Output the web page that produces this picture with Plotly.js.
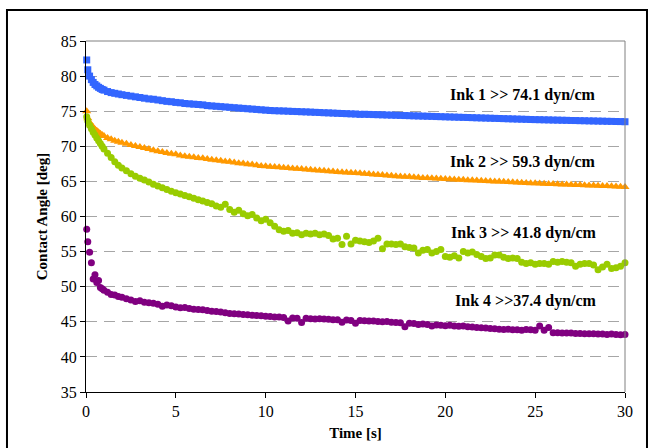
<!DOCTYPE html>
<html>
<head>
<meta charset="utf-8">
<script src="https://cdn.plot.ly/plotly-3.0.1.min.js"></script>
<style>html,body{margin:0;padding:0;background:#fff;}#chart{width:654px;height:448px;}</style>
</head>
<body>
<div id="chart"></div>
<script>
// Time samples [s]
var time = [0.04,0.1,0.2,0.3,0.4,0.5,0.6,0.7,0.8,0.9,1.0,1.2,1.4,1.6,1.8,
2.0,2.25,2.5,2.75, 3.0,3.25,3.5,3.75, 4.0,4.25,4.5,4.75, 5.0,5.25,5.5,5.75,
6.0,6.25,6.5,6.75, 7.0,7.25,7.5,7.75, 8.0,8.25,8.5,8.75, 9.0,9.25,9.5,9.75,
10.0,10.25,10.5,10.75, 11.0,11.25,11.5,11.75, 12.0,12.25,12.5,12.75, 13.0,13.25,13.5,13.75,
14.0,14.25,14.5,14.75, 15.0,15.25,15.5,15.75, 16.0,16.25,16.5,16.75, 17.0,17.25,17.5,17.75,
18.0,18.25,18.5,18.75, 19.0,19.25,19.5,19.75, 20.0,20.25,20.5,20.75, 21.0,21.25,21.5,21.75,
22.0,22.25,22.5,22.75, 23.0,23.25,23.5,23.75, 24.0,24.25,24.5,24.75, 25.0,25.25,25.5,25.75,
26.0,26.25,26.5,26.75, 27.0,27.25,27.5,27.75, 28.0,28.25,28.5,28.75, 29.0,29.25,29.5,29.75, 30.0];

// Contact angle [deg]
var ink1 = [82.3,80.9,80.0,79.5,79.1,78.8,78.6,78.4,78.25,78.1,78.0,77.8,77.65,77.55,77.45,
77.35,77.25,77.15,77.05, 76.95,76.85,76.75,76.7, 76.6,76.5,76.4,76.35, 76.25,76.2,76.1,76.05,
76.0,75.95,75.9,75.8, 75.75,75.7,75.65,75.6, 75.55,75.5,75.45,75.4, 75.35,75.3,75.25,75.2,
75.15,75.1,75.07,75.05, 75.03,75.0,74.97,74.95, 74.92,74.9,74.87,74.84, 74.81,74.78,74.76,74.73,
74.7,74.67,74.65,74.62, 74.6,74.55,74.56,74.54, 74.52,74.5,74.48,74.46, 74.44,74.42,74.4,74.38,
74.36,74.34,74.32,74.3, 74.28,74.26,74.24,74.22, 74.2,74.18,74.16,74.14, 74.12,74.1,74.08,74.06,
74.04,74.02,74.0,73.98, 73.96,73.94,73.92,73.9, 73.88,73.86,73.84,73.82, 73.8,73.79,73.77,73.76,
73.74,73.73,73.71,73.7, 73.68,73.67,73.65,73.64, 73.62,73.61,73.59,73.58, 73.56,73.55,73.53,73.52, 73.5];

var ink2 = [75.0,74.0,73.4,73.0,72.7,72.4,72.2,72.0,71.8,71.6,71.45,71.2,71.0,70.8,70.65,
70.5,70.35,70.2,70.05, 69.9,69.75,69.6,69.45, 69.3,69.2,69.05,68.95, 68.85,68.7,68.6,68.5,
68.45,68.35,68.3,68.2, 68.1,68.0,67.95,67.85, 67.8,67.7,67.6,67.55, 67.45,67.4,67.3,67.2,
67.15,67.1,67.05,67.0, 66.95,66.9,66.85,66.8, 66.75,66.7,66.65,66.6, 66.55,66.5,66.45,66.4,
66.35,66.3,66.25,66.22, 66.2,66.15,66.1,66.05, 66.0,65.95,65.9,65.85, 65.8,65.75,65.7,65.68,
65.65,65.6,65.55,65.5, 65.47,65.44,65.4,65.37, 65.35,65.3,65.28,65.25, 65.22,65.18,65.15,65.12,
65.1,65.05,65.02,65.0, 64.97,64.94,64.9,64.88, 64.85,64.82,64.78,64.75, 64.72,64.7,64.67,64.64,
64.62,64.6,64.57,64.55, 64.52,64.5,64.47,64.45, 64.42,64.4,64.38,64.35, 64.33,64.3,64.28,64.25, 64.22];

var ink3 = [74.2,73.6,73.0,72.5,72.0,71.6,71.2,70.8,70.4,70.0,69.6,69.0,68.4,67.8,67.3,
66.9,66.5,66.1,65.75, 65.45,65.2,64.9,64.6, 64.35,64.1,63.85,63.6, 63.4,63.2,63.0,62.8,
62.6,62.4,62.2,62.0, 61.8,61.5,61.3,61.75, 61.0,60.6,60.9,60.4, 60.1,60.3,59.8,59.4,
59.6,59.1,58.6,58.1, 57.9,58.0,57.6,57.7, 57.4,57.6,57.5,57.6, 57.4,57.5,57.3,56.8,
56.9,56.0,57.2,56.1, 56.6,56.5,56.4,56.3, 56.5,56.9,55.4,56.1, 56.1,56.0,56.1,55.7,
55.6,55.5,54.8,55.2, 55.3,54.8,55.0,55.3, 54.3,54.2,54.4,54.1, 55.0,54.8,54.95,54.6,
54.3,54.0,54.1,54.5, 54.5,54.2,54.0,54.1, 54.0,53.5,53.3,53.4, 53.2,53.3,53.3,53.2,
53.6,53.5,53.6,53.5, 53.4,52.9,53.2,53.3, 53.3,53.1,52.4,52.8, 53.2,52.6,52.7,52.9, 53.4];

var ink4 = [58.2,56.4,54.9,53.4,51.1,51.7,50.6,50.9,49.9,49.7,49.5,49.2,48.9,48.8,48.6,
48.5,48.3,48.1,47.9, 48.0,47.8,47.7,47.65, 47.5,47.2,47.4,47.3, 47.1,47.0,47.05,46.9,
46.8,46.75,46.7,46.6, 46.5,46.45,46.4,46.3, 46.2,46.15,46.1,46.05, 46.0,45.95,45.9,45.85,
45.8,45.75,45.7,45.7, 45.6,45.1,45.55,45.5, 44.9,45.5,45.45,45.4, 45.45,45.4,45.35,45.3,
45.3,44.95,45.25,45.2, 44.8,45.2,45.15,45.1, 45.1,45.05,45.0,45.05, 44.95,44.9,44.85,44.3,
44.8,44.75,44.6,44.7, 44.6,44.4,44.55,44.5, 44.45,44.5,44.4,44.35, 44.4,44.3,44.25,44.2,
44.15,44.1,44.05,44.0, 43.95,43.9,43.95,43.85, 43.85,43.8,43.9,43.85, 43.8,44.4,43.8,44.2,
43.45,43.45,43.4,43.4, 43.4,43.35,43.35,43.3, 43.3,43.3,43.25,43.25, 43.2,43.25,43.2,43.15, 43.2];

var seriesNames = ["Ink 1", "Ink 2", "Ink 3", "Ink 4"];
var labels = ["Ink 1 >> 74.1 dyn/cm", "Ink 2 >> 59.3 dyn/cm", "Ink 3 >> 41.8 dyn/cm", "Ink 4 >>37.4 dyn/cm"];
var xTicks = [0, 5, 10, 15, 20, 25, 30];
var yTicks = [35, 40, 45, 50, 55, 60, 65, 70, 75, 80, 85];

var serif = "Liberation Serif";
var colors = ["#3366FF", "#FF9900", "#99CC00", "#800080"];
var symbols = ["square", "triangle-up", "circle", "circle"];
var sizes = [7, 8, 7, 7];
var ys = [ink1, ink2, ink3, ink4];

var traces = ys.map(function (y, i) {
  return {
    type: "scatter", mode: "markers", name: seriesNames[i],
    x: time, y: y, cliponaxis: false,
    marker: {symbol: symbols[i], size: sizes[i], color: colors[i], line: {width: 0}}
  };
});

var labelPos = [[24.3, 77.3], [24.3, 67.7], [24.4, 57.7], [24.5, 48.0]];
var annotations = labels.map(function (t, i) {
  return {
    xref: "x", yref: "y", x: labelPos[i][0], y: labelPos[i][1],
    text: "<b>" + t + "</b>", showarrow: false, xanchor: "center", yanchor: "middle",
    font: {family: serif, size: 16, color: "#000"}
  };
});

var layout = {
  width: 654, height: 448,
  margin: {l: 86, r: 29, t: 41, b: 56},
  paper_bgcolor: "#fff", plot_bgcolor: "#fff",
  showlegend: false,
  font: {family: serif, color: "#000"},
  xaxis: {
    range: [0, 30], tickvals: xTicks, ticktext: xTicks.map(String),
    ticks: "outside", ticklen: 5, tickcolor: "#000", tickwidth: 1,
    showline: true, linecolor: "#000", linewidth: 1,
    showgrid: false, zeroline: false,
    tickfont: {family: serif, size: 16, color: "#000"},
    title: {text: "<b>Time [s]</b>", font: {family: serif, size: 15, color: "#000"}, standoff: 8}
  },
  yaxis: {
    range: [35, 85], tickvals: yTicks, ticktext: yTicks.map(String),
    ticks: "outside", ticklen: 5, tickcolor: "#000", tickwidth: 1,
    showline: true, linecolor: "#000", linewidth: 1,
    showgrid: true, gridcolor: "#a6a6a6", gridwidth: 1, griddash: "11px,7px",
    zeroline: false,
    tickfont: {family: serif, size: 16, color: "#000"},
    title: {text: "<b>Contact Angle [deg]</b>", font: {family: serif, size: 15, color: "#000"}, standoff: 9}
  },
  annotations: annotations,
  shapes: [
    {type: "line", xref: "paper", yref: "paper", x0: 0, x1: 1, y0: 1, y1: 1, line: {color: "#808080", width: 1}},
    {type: "line", xref: "paper", yref: "paper", x0: 1, x1: 1, y0: 0, y1: 1, line: {color: "#808080", width: 1}},
    {type: "rect", xref: "paper", yref: "paper", x0: -0.1466, x1: 1.0408, y0: -0.2, y1: 1.0883, line: {color: "#000", width: 2}, fillcolor: "rgba(0,0,0,0)"}
  ]
};

Plotly.newPlot("chart", traces, layout, {displayModeBar: false, staticPlot: true});
</script>
</body>
</html>
